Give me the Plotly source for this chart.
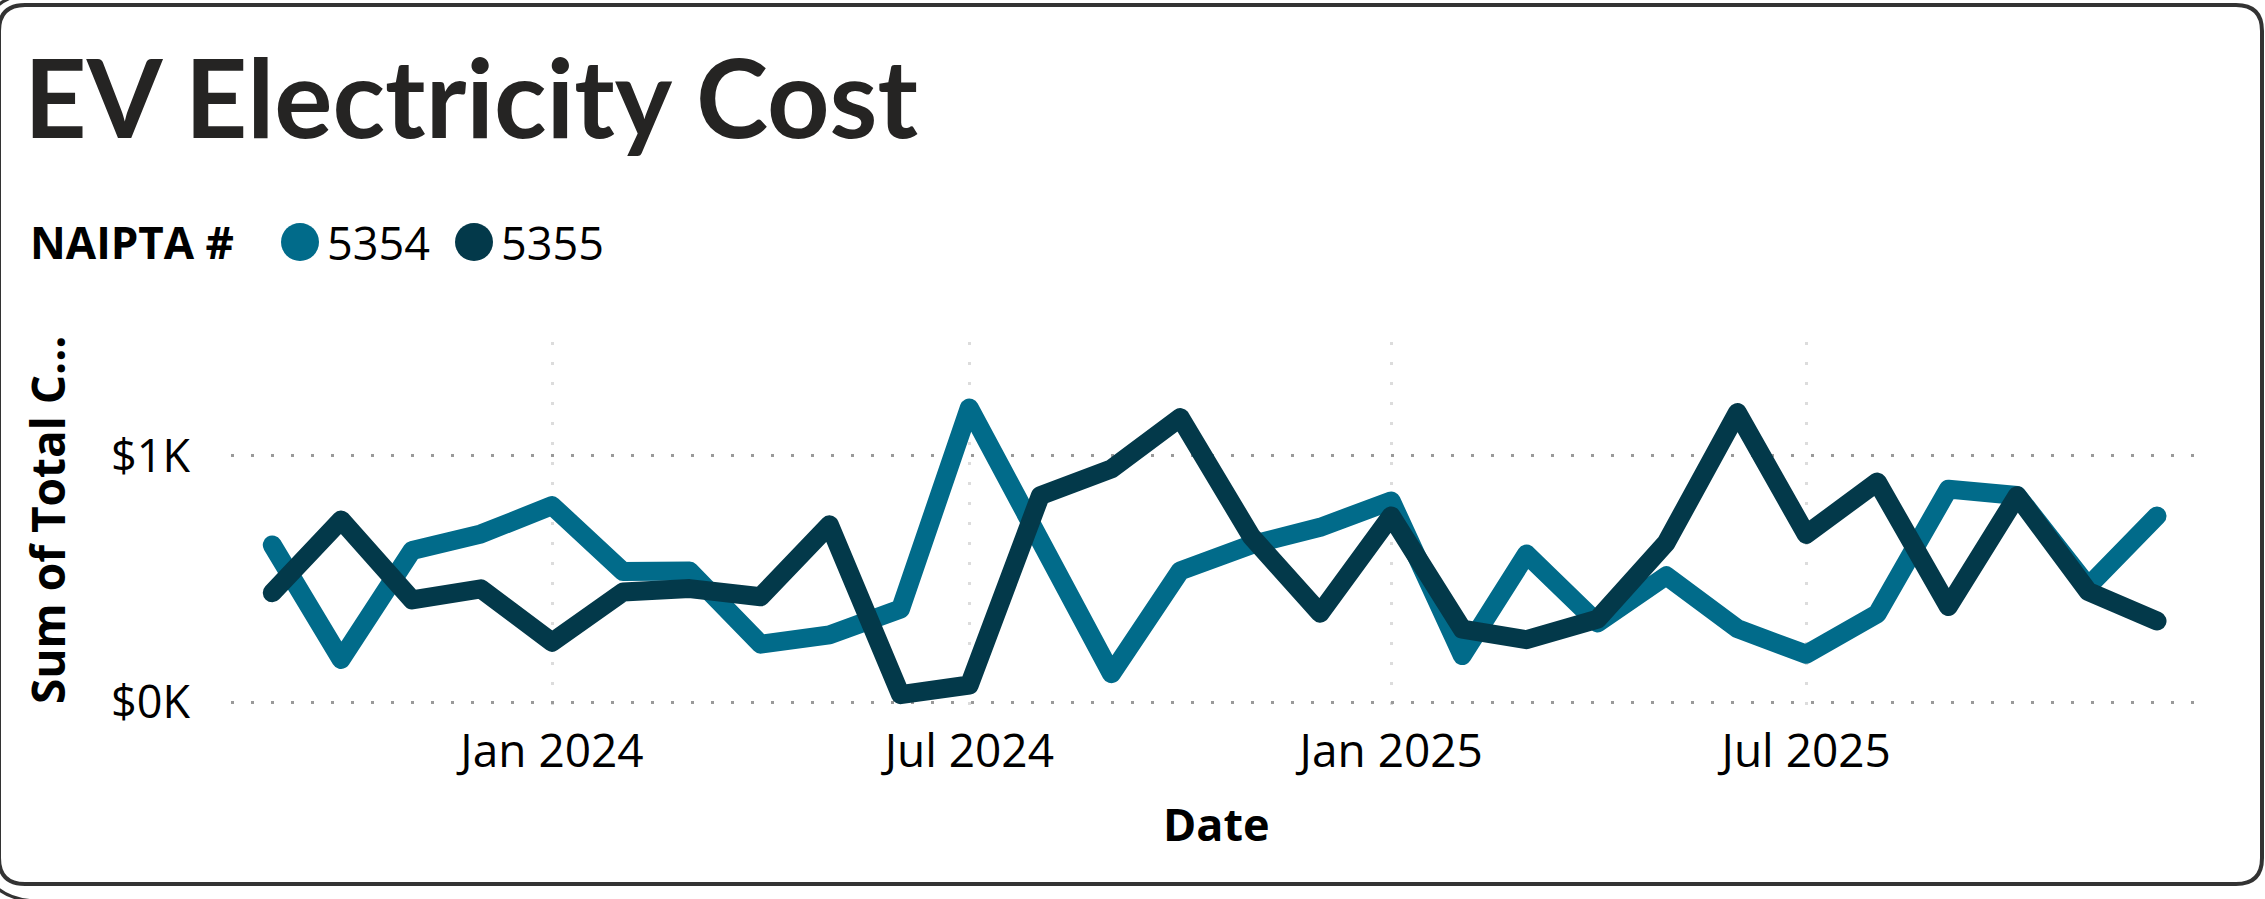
import plotly.graph_objects as go

# ---------------- data ----------------
months = ["2023-09-01", "2023-10-01", "2023-11-01", "2023-12-01",
          "2024-01-01", "2024-02-01", "2024-03-01", "2024-04-01",
          "2024-05-01", "2024-06-01", "2024-07-01", "2024-08-01",
          "2024-09-01", "2024-10-01", "2024-11-01", "2024-12-01",
          "2025-01-01", "2025-02-01", "2025-03-01", "2025-04-01",
          "2025-05-01", "2025-06-01", "2025-07-01", "2025-08-01",
          "2025-09-01", "2025-10-01", "2025-11-01", "2025-12-01"]

cost_5354 = [638, 173, 616, 683, 798, 530, 532, 235, 273, 378, 1195, 660,
             115, 533, 639, 710, 817, 189, 601, 321, 513, 298, 194, 359,
             865, 839, 470, 756]

cost_5355 = [444, 740, 415, 460, 243, 447, 461, 428, 720, 30, 69, 839,
             947, 1156, 673, 361, 756, 296, 253, 337, 648, 1176, 681, 894,
             388, 838, 449, 329]

series_names = ["5354", "5355"]
series_colors = ["#016B8A", "#03394A"]

x_tick_vals = ["2024-01-01", "2024-07-01", "2025-01-01", "2025-07-01"]
x_tick_text = ["Jan 2024", "Jul 2024", "Jan 2025", "Jul 2025"]
y_tick_vals = [0, 1000]
y_tick_text = ["$0K", "$1K"]

# ---------------- layout geometry (pixels) ----------------
W, H = 2265, 899
PL, PR, PT, PB = 231, 2196, 342, 707
FONT = "Open Sans"


def fx(p):
    return (p - PL) / (PR - PL)


def fy(p):
    return (PB - p) / (PB - PT)


def rounded_rect(x0, y0, x1, y1, r):
    return (f"M {fx(x0 + r)},{fy(y0)} L {fx(x1 - r)},{fy(y0)} "
            f"Q {fx(x1)},{fy(y0)} {fx(x1)},{fy(y0 + r)} "
            f"L {fx(x1)},{fy(y1 - r)} Q {fx(x1)},{fy(y1)} {fx(x1 - r)},{fy(y1)} "
            f"L {fx(x0 + r)},{fy(y1)} Q {fx(x0)},{fy(y1)} {fx(x0)},{fy(y1 - r)} "
            f"L {fx(x0)},{fy(y0 + r)} Q {fx(x0)},{fy(y0)} {fx(x0 + r)},{fy(y0)} Z")


fig = go.Figure()
for name, vals, col in zip(series_names, [cost_5354, cost_5355], series_colors):
    fig.add_trace(go.Scatter(
        x=months, y=vals, name=name, mode="lines",
        line=dict(color=col, width=19),
        showlegend=False,
        hovertemplate="%{x|%b %Y}<br>$%{y:,.0f}<extra>" + name + "</extra>",
    ))

shapes = []
# card borders (rounded rectangles)
shapes.append(dict(type="path", xref="paper", yref="paper",
                   path=rounded_rect(-20, -7, 2400, 901, 60),
                   line=dict(color="#333333", width=3), fillcolor="rgba(0,0,0,0)",
                   layer="below"))
shapes.append(dict(type="path", xref="paper", yref="paper",
                   path=rounded_rect(-1, 5, 2262, 884, 26),
                   line=dict(color="#333333", width=4), fillcolor="rgba(0,0,0,0)",
                   layer="below"))

annotations = []
# title
annotations.append(dict(text="<b>EV Electricity Cost</b>", xref="paper", yref="paper",
                        x=fx(22), y=fy(95), xanchor="left", yanchor="middle",
                        showarrow=False, font=dict(family="Lato", size=109, color="#252423")))
# legend (manual)
leg_y = 242
annotations.append(dict(text="<b>NAIPTA #</b>", xref="paper", yref="paper",
                        x=fx(28), y=fy(leg_y), xanchor="left", yanchor="middle",
                        showarrow=False, font=dict(family=FONT, size=44, color="#000000")))
for cx, tx, name, col in [(300, 325, series_names[0], series_colors[0]),
                          (474, 499, series_names[1], series_colors[1])]:
    shapes.append(dict(type="circle", xref="paper", yref="paper",
                       x0=fx(cx - 19), x1=fx(cx + 19), y0=fy(leg_y - 19), y1=fy(leg_y + 19),
                       fillcolor=col, line=dict(width=0)))
    annotations.append(dict(text=name, xref="paper", yref="paper",
                            x=fx(tx), y=fy(leg_y), xanchor="left", yanchor="middle",
                            showarrow=False, font=dict(family=FONT, size=45, color="#000000")))
# axis titles
annotations.append(dict(text="<b>Date</b>", xref="paper", yref="paper",
                        x=fx(1216), y=fy(823), xanchor="center", yanchor="middle",
                        showarrow=False, font=dict(family=FONT, size=45, color="#000000")))
annotations.append(dict(text="<b>Sum of Total C...</b>", xref="paper", yref="paper",
                        x=fx(47), y=fy(520), xanchor="center", yanchor="middle", textangle=-90,
                        showarrow=False, font=dict(family=FONT, size=46, color="#000000")))

fig.update_layout(
    width=W, height=H,
    margin=dict(l=PL, r=W - PR, t=PT, b=H - PB, autoexpand=False),
    paper_bgcolor="white", plot_bgcolor="white",
    shapes=shapes, annotations=annotations,
    xaxis=dict(type="date", range=["2023-08-14", "2025-12-18"],
               tickmode="array", tickvals=x_tick_vals, ticktext=x_tick_text,
               showgrid=True, gridcolor="#dcdcdc", gridwidth=3, griddash="3px,17px",
               showline=False, zeroline=False, ticks="",
               tickfont=dict(family=FONT, size=46, color="#000000"),
               ticklabelstandoff=13),
    yaxis=dict(range=[-20.3, 1463], tickmode="array", tickvals=y_tick_vals, ticktext=y_tick_text,
               showgrid=True, gridcolor="#9a9a9a", gridwidth=3, griddash="3px,17px",
               showline=False, zeroline=False, ticks="",
               tickfont=dict(family=FONT, size=45, color="#000000"),
               ticklabelstandoff=40),
)

post = ("document.body.style.margin='0';document.body.style.overflow='hidden';"
        "document.querySelectorAll('.scatterlayer path.js-line').forEach(function(p){"
        "p.style.strokeLinejoin='round';p.style.strokeLinecap='round';});")
fig.write_html("out.html", post_script=post, config={"displayModeBar": False})
